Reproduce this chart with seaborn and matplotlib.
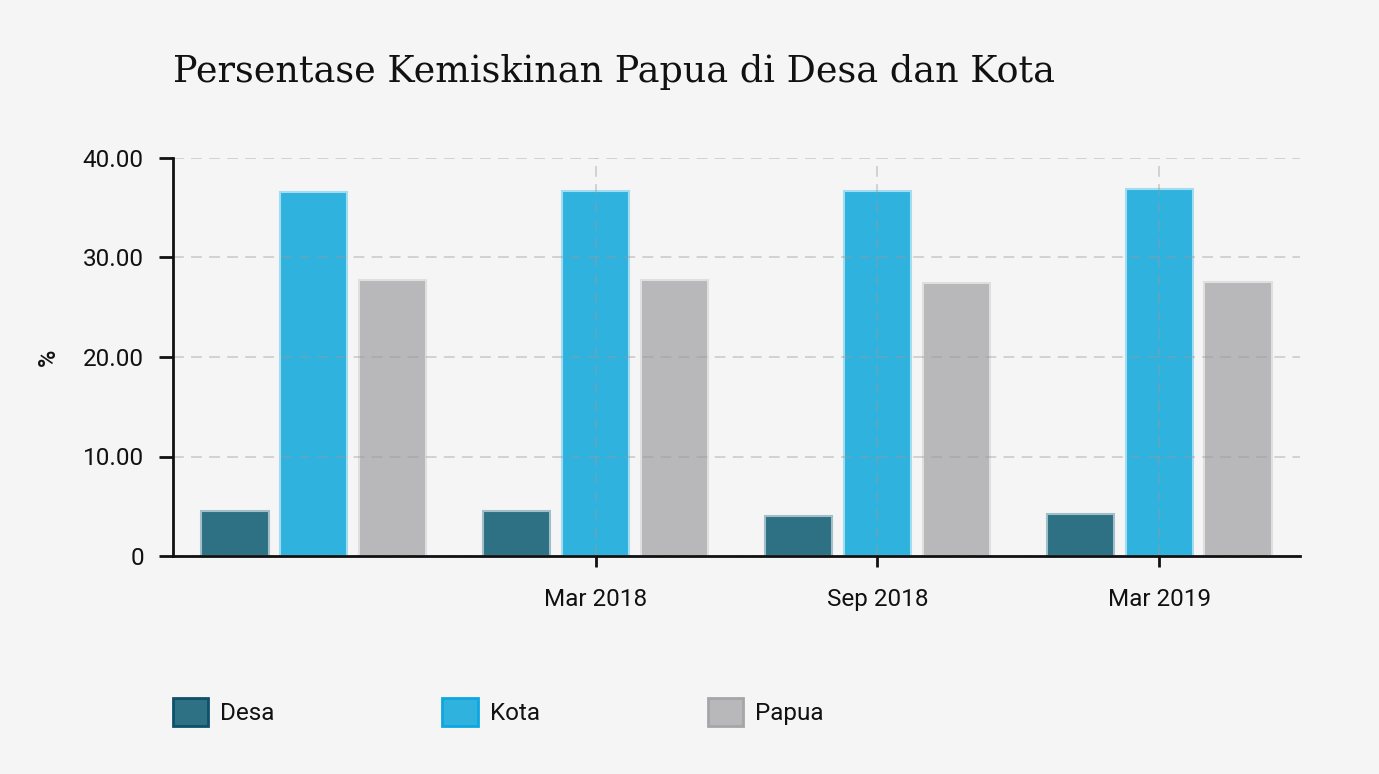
import pandas as pd
import numpy as np
import matplotlib
matplotlib.use("Agg")
import matplotlib.pyplot as plt
import matplotlib.colors as mcolors
from matplotlib.patches import Patch
import seaborn as sns

periode = ["Sep 2017", "Mar 2018", "Sep 2018", "Mar 2019"]
label_periode = ["", "Mar 2018", "Sep 2018", "Mar 2019"]
kategori = ["Desa", "Kota", "Papua"]
desa = [4.55, 4.51, 4.01, 4.26]
kota = [36.56, 36.65, 36.65, 36.84]
papua = [27.76, 27.74, 27.43, 27.53]

warna = {"Desa": "#2e7084", "Kota": "#2fb2de", "Papua": "#b8b8ba"}
tepi_legend = {"Desa": "#0f506a", "Kota": "#0ea6e0", "Papua": "#a6a6a8"}

df = pd.DataFrame({
    "periode": periode * 3,
    "kategori": np.repeat(kategori, len(periode)),
    "nilai": desa + kota + papua,
})

bg = "#f5f5f5"
teks = "#111111"
sns.set_theme(style="white")
plt.rcParams["font.family"] = ["Roboto", "DejaVu Sans"]

fig = plt.figure(figsize=(13.79, 7.74), dpi=100, facecolor=bg)
ax = fig.add_axes([173 / 1379, 1 - 556 / 774, 1127 / 1379, 398 / 774])
ax.set_facecolor(bg)

sns.barplot(data=df, x="periode", y="nilai", hue="kategori", order=periode,
            hue_order=kategori, palette=warna, width=0.84, gap=0.15,
            saturation=1, legend=False, ax=ax)

# tepi batang sedikit lebih terang dari isinya
for cont, k in zip(ax.containers, kategori):
    c = np.array(mcolors.to_rgb(warna[k]))
    light = c + (1 - c) * 0.55
    for bar in cont:
        bar.set_edgecolor(light)
        bar.set_linewidth(1.5)

ax.set_xlim(-0.5, 3.5)
ax.set_ylim(0, 40)
ax.set_yticks([0, 10, 20, 30, 40])
ax.set_yticklabels(["0", "10.00", "20.00", "30.00", "40.00"])
pos = [i for i, l in enumerate(label_periode) if l]
ax.set_xticks(pos)
ax.set_xticklabels([label_periode[i] for i in pos])

ax.grid(True, axis="both", color="#9a9a9a", alpha=0.42, linestyle=(0, (6, 4)), linewidth=1.3)
ax.set_axisbelow(False)

for s in ["top", "right"]:
    ax.spines[s].set_visible(False)
for s in ["left", "bottom"]:
    ax.spines[s].set_color(teks)
    ax.spines[s].set_linewidth(2)
    ax.spines[s].set_zorder(5)

ax.tick_params(axis="y", direction="out", length=10, width=2, color=teks,
               pad=11, labelsize=17.5, labelcolor=teks, left=True)
ax.tick_params(axis="x", direction="out", length=8, width=2, color=teks,
               pad=15, labelsize=17.5, labelcolor=teks, bottom=True)

ax.set_xlabel("")
ax.set_ylabel("%", fontsize=17, fontweight="medium", color=teks)
ax.yaxis.set_label_coords(-0.100, 0.5)

fig.text(173 / 1379, 1 - 82 / 774, "Persentase Kemiskinan Papua di Desa dan Kota",
         family="DejaVu Serif", fontsize=26.3, color=teks, va="baseline", ha="left")

handles = [Patch(facecolor=warna[k], edgecolor=tepi_legend[k], linewidth=2, label=k)
           for k in kategori]
fig.legend(handles=handles, loc="center left", bbox_to_anchor=(173 / 1379, 1 - 712 / 774),
           ncol=3, frameon=False, fontsize=17.5, handlelength=1.45, handleheight=1.45,
           handletextpad=0.5, columnspacing=6.9, borderpad=0, borderaxespad=0,
           labelcolor=teks)

fig.savefig("out.png", dpi=100, facecolor=bg)
